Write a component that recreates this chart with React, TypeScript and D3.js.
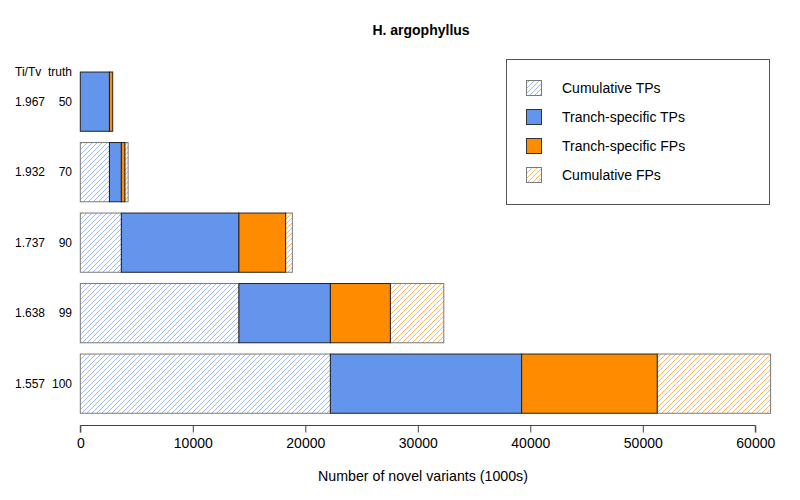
import { useEffect, useRef } from "react"
import * as d3 from "d3"

// rows, top to bottom
const truth = ["50", "70", "90", "99", "100"]
const titv = ["1.967", "1.932", "1.737", "1.638", "1.557"]

// values in 1000s of variants
const cumulativeTPs = [0, 2590, 3650, 14100, 22230]
const tranchTPs = [2590, 1060, 10450, 8130, 17000]
const tranchFPs = [290, 310, 4150, 5330, 12050]
const cumulativeFPs = [0, 290, 600, 4750, 10080]

const xTicks = [0, 10000, 20000, 30000, 40000, 50000, 60000]

const legendLabels = ["Cumulative TPs", "Tranch-specific TPs", "Tranch-specific FPs", "Cumulative FPs"]

const BLUE = "#6495ED"
const ORANGE = "#FF8C00"
const FONT = "Liberation Sans, Arial, sans-serif"

export default function App() {
  const svgRef = useRef<SVGSVGElement>(null)
  const width = 800
  const height = 500

  useEffect(() => {
    if (!svgRef.current) return
    const svg = d3.select(svgRef.current)
    svg.selectAll("*").remove()

    const x = d3.scaleLinear().domain([0, 60000]).range([80.3, 755.3])
    const y = d3
      .scaleBand<string>()
      .domain(truth)
      .range([66.4, 418.9])
      .paddingInner(0.16)
      .paddingOuter(0.08)

    // hatch patterns
    const defs = svg.append("defs")
    const hatch = (id: string, color: string) => {
      const p = defs
        .append("pattern")
        .attr("id", id)
        .attr("patternUnits", "userSpaceOnUse")
        .attr("width", 5)
        .attr("height", 5)
      p.append("rect").attr("width", 5).attr("height", 5).attr("fill", "white")
      p.append("path")
        .attr("d", "M-1,1 l2,-2 M0,5 l5,-5 M4,6 l2,-2")
        .attr("stroke", color)
        .attr("stroke-width", 0.8)
        .attr("stroke-opacity", 0.8)
        .attr("fill", "none")
    }
    hatch("hatch-blue", BLUE)
    hatch("hatch-orange", ORANGE)

    // segments per row
    const segments: { row: string; start: number; value: number; fill: string; hatched: boolean }[] = []
    truth.forEach((t, i) => {
      let s = 0
      const parts = [
        { value: cumulativeTPs[i], fill: "url(#hatch-blue)", hatched: true },
        { value: tranchTPs[i], fill: BLUE, hatched: false },
        { value: tranchFPs[i], fill: ORANGE, hatched: false },
        { value: cumulativeFPs[i], fill: "url(#hatch-orange)", hatched: true }
      ]
      parts.forEach(p => {
        if (p.value > 0) segments.push({ row: t, start: s, ...p })
        s += p.value
      })
    })

    const drawSegs = (hatched: boolean) =>
      svg
        .append("g")
        .selectAll("rect")
        .data(segments.filter(d => d.hatched === hatched))
        .enter()
        .append("rect")
        .attr("x", d => x(d.start))
        .attr("y", d => y(d.row) || 0)
        .attr("width", d => x(d.start + d.value) - x(d.start))
        .attr("height", y.bandwidth())
        .attr("fill", d => d.fill)
        .attr("stroke", hatched ? "#7a7a7a" : "#222")
        .attr("stroke-width", 1)

    drawSegs(true)
    drawSegs(false)

    // row labels
    const labels = svg.append("g").style("font-family", FONT).style("font-size", "12px").attr("fill", "#000")
    labels.append("text").attr("x", 15).attr("y", 76).text("Ti/Tv")
    labels.append("text").attr("x", 72).attr("y", 76).attr("text-anchor", "end").text("truth")
    truth.forEach((t, i) => {
      const cy = (y(t) || 0) + y.bandwidth() / 2 + 4
      labels.append("text").attr("x", 15).attr("y", cy).text(titv[i])
      labels.append("text").attr("x", 72).attr("y", cy).attr("text-anchor", "end").text(t)
    })

    // x axis
    const axis = svg
      .append("g")
      .attr("transform", "translate(0,425.5)")
      .call(d3.axisBottom(x).tickValues(xTicks).tickFormat(d3.format("d")).tickSize(7).tickPadding(6))
    axis.select(".domain").attr("stroke", "#444").attr("d", `M${x(0)},7V0H${x(60000)}V7`)
    axis.selectAll(".tick line").attr("stroke", "#444")
    axis.selectAll("text").style("font-family", FONT).style("font-size", "14px").attr("fill", "#000")

    svg
      .append("text")
      .attr("x", 423)
      .attr("y", 481)
      .attr("text-anchor", "middle")
      .style("font-family", FONT)
      .style("font-size", "14.2px")
      .text("Number of novel variants (1000s)")

    svg
      .append("text")
      .attr("x", 421)
      .attr("y", 35)
      .attr("text-anchor", "middle")
      .style("font-family", FONT)
      .style("font-size", "14px")
      .style("font-weight", "bold")
      .text("H. argophyllus")

    // legend
    const lg = svg.append("g")
    lg.append("rect")
      .attr("x", 506.5)
      .attr("y", 59.5)
      .attr("width", 263)
      .attr("height", 145)
      .attr("fill", "white")
      .attr("stroke", "#555")
    const swatchFill = ["url(#hatch-blue)", BLUE, ORANGE, "url(#hatch-orange)"]
    legendLabels.forEach((l, i) => {
      const cy = 88 + i * 29
      lg.append("rect")
        .attr("x", 526.5)
        .attr("y", cy - 7.5)
        .attr("width", 15)
        .attr("height", 15)
        .attr("fill", swatchFill[i])
        .attr("stroke", i === 0 || i === 3 ? "#7a7a7a" : "#333")
      lg.append("text")
        .attr("x", 562)
        .attr("y", cy + 5)
        .style("font-family", FONT)
        .style("font-size", "14px")
        .text(l)
    })
  }, [])

  return (
    <svg
      ref={svgRef}
      width={width}
      height={height}
      style={{ position: "absolute", left: 0, top: 0, background: "white" }}
    />
  )
}
